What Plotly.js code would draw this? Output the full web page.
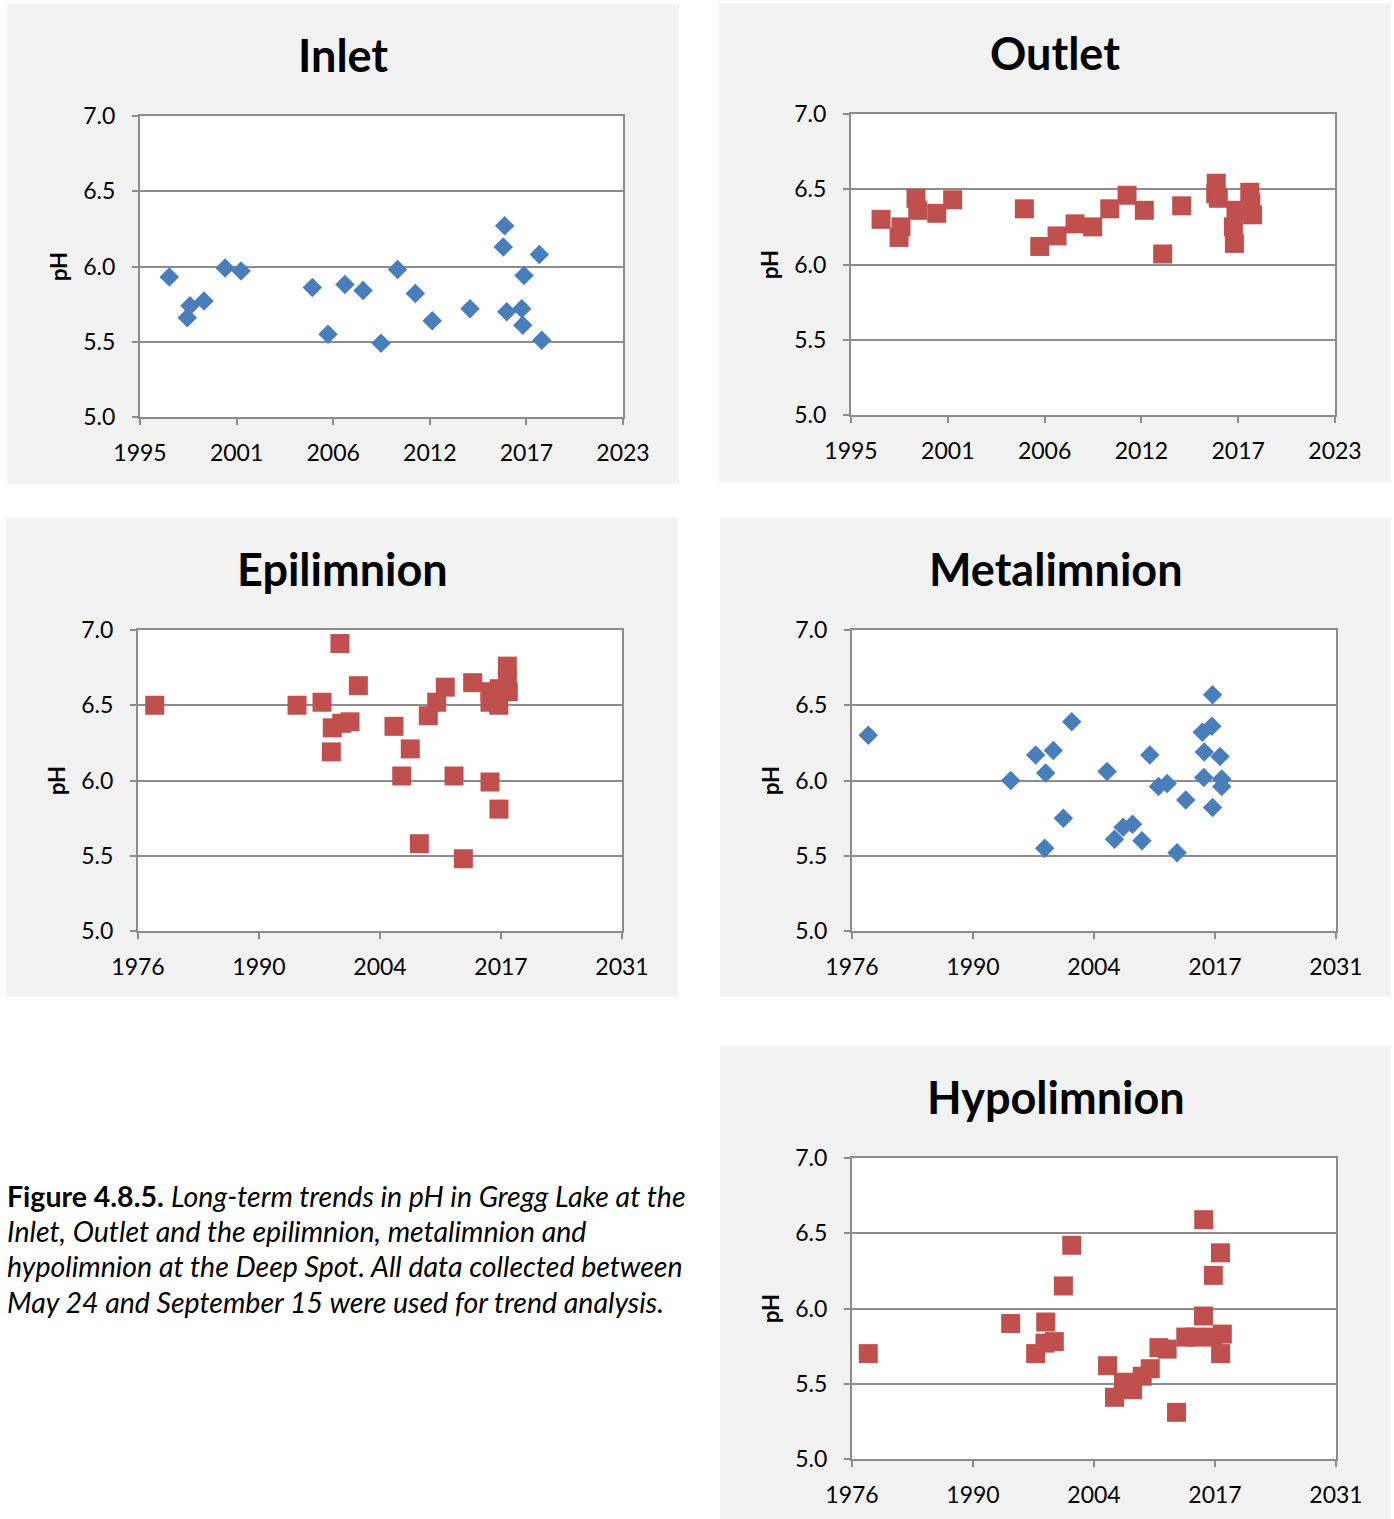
<!DOCTYPE html>
<html><head><meta charset="utf-8">
<script src="https://cdn.plot.ly/plotly-3.0.1.min.js"></script>
<style>html,body{margin:0;padding:0;background:#fff}</style>
</head><body><div id="chart" style="width:1394px;height:1519px"></div>
<script>
// ---- data (decimal years, pH) ----
const inletYear = [1996.70, 1997.90, 1997.74, 1998.71, 1999.93, 2000.86, 2004.99, 2005.90, 2006.88, 2007.93, 2008.97, 2009.93, 2010.96, 2011.94, 2014.13, 2016.14, 2016.06, 2016.26, 2017.13, 2017.19, 2017.26, 2018.15, 2018.29];
const inletPH   = [5.93, 5.74, 5.66, 5.77, 5.99, 5.97, 5.86, 5.55, 5.88, 5.84, 5.49, 5.98, 5.82, 5.64, 5.72, 6.27, 6.13, 5.70, 5.72, 5.61, 5.94, 6.08, 5.51];

const outletYear = [1996.74, 1997.89, 1997.78, 1998.76, 1998.86, 1999.96, 2000.88, 2005.03, 2005.92, 2006.92, 2007.96, 2008.98, 2009.97, 2010.97, 2011.97, 2013.03, 2014.13, 2016.13, 2016.10, 2016.25, 2017.27, 2017.12, 2017.18, 2018.07, 2018.13, 2018.23];
const outletPH   = [6.30, 6.25, 6.18, 6.44, 6.36, 6.34, 6.43, 6.37, 6.12, 6.19, 6.27, 6.25, 6.37, 6.46, 6.36, 6.07, 6.39, 6.54, 6.47, 6.44, 6.36, 6.25, 6.14, 6.48, 6.41, 6.33];

const epiYear = [1977.90, 1994.07, 1996.91, 1998.95, 2001.04, 1998.08, 1999.15, 2000.09, 1997.97, 2005.09, 2006.94, 2005.97, 2007.97, 2008.99, 2009.94, 2010.92, 2011.91, 2012.97, 2014.03, 2016.00, 2017.02, 2016.00, 2016.00, 2017.06, 2017.00, 2017.97, 2017.97, 2018.08];
const epiPH   = [6.50, 6.50, 6.52, 6.91, 6.63, 6.35, 6.38, 6.39, 6.19, 6.36, 6.21, 6.03, 5.58, 6.43, 6.52, 6.62, 6.03, 5.48, 6.65, 5.99, 5.81, 6.59, 6.52, 6.61, 6.50, 6.76, 6.67, 6.59];

const metaYear = [1977.85, 1994.03, 1996.87, 1998.88, 1998.01, 2000.97, 2000.02, 1997.90, 2004.99, 2009.84, 2010.83, 2011.81, 2013.93, 2016.97, 2016.89, 2015.81, 2016.03, 2017.82, 2015.97, 2018.02, 2018.02, 2016.97, 2006.81, 2007.88, 2005.83, 2008.95, 2012.93];
const metaPH   = [6.30, 6.00, 6.17, 6.20, 6.05, 6.39, 5.75, 5.55, 6.06, 6.17, 5.96, 5.98, 5.87, 6.57, 6.36, 6.32, 6.19, 6.16, 6.02, 6.01, 5.96, 5.82, 5.69, 5.71, 5.61, 5.60, 5.52];

const hypoYear = [1977.85, 1994.03, 1998.01, 1996.87, 1997.93, 1998.99, 2000.02, 2000.97, 2005.04, 2005.83, 2006.85, 2007.88, 2008.98, 2009.89, 2010.88, 2011.81, 2012.88, 2013.93, 2014.95, 2015.97, 2015.94, 2017.00, 2017.87, 2017.06, 2018.08, 2017.89];
const hypoPH   = [5.70, 5.90, 5.91, 5.70, 5.77, 5.78, 6.15, 6.42, 5.62, 5.41, 5.51, 5.46, 5.55, 5.60, 5.74, 5.73, 5.31, 5.81, 5.81, 6.59, 5.95, 5.81, 6.37, 6.22, 5.83, 5.70];

const shortTickVals  = [1995, 2000.6, 2006.2, 2011.8, 2017.4, 2023];
const shortTickText  = ['1995', '2001', '2006', '2012', '2017', '2023'];
const longTickVals   = [1976, 1989.75, 2003.5, 2017.25, 2031];
const longTickText   = ['1976', '1990', '2004', '2017', '2031'];

const panelTitles = ['Inlet', 'Outlet', 'Epilimnion', 'Metalimnion', 'Hypolimnion'];
const captionLines = [
  '<b>Figure 4.8.5.</b> <i>Long-term trends in pH in Gregg Lake at the</i>',
  '<i>Inlet, Outlet and the epilimnion, metalimnion and</i>',
  '<i>hypolimnion at the Deep Spot. All data collected between</i>',
  '<i>May 24 and September 15 were used for trend analysis.</i>'
];

// ---- layout geometry ----
const W = 1394, H = 1519;
const FONT = 'Lato, "Open Sans", sans-serif';
const BLUE = '#4a7ebb', RED = '#c0504d', GRID = '#8c8c8c';

const panels = [
  {bg:[7,4,679,484],    plot:[140,116,623,417],  title:[343,55],   x:inletYear,  y:inletPH,  sym:'diamond', color:BLUE, tv:shortTickVals, tt:shortTickText, range:[1995,2023]},
  {bg:[719,3,1391,482], plot:[851,114,1335,415], title:[1055,53],  x:outletYear, y:outletPH, sym:'square',  color:RED,  tv:shortTickVals, tt:shortTickText, range:[1995,2023]},
  {bg:[6,518,678,997],  plot:[138,630,622,931],  title:[342,569],  x:epiYear,    y:epiPH,    sym:'square',  color:RED,  tv:longTickVals,  tt:longTickText,  range:[1976,2031]},
  {bg:[720,518,1391,997], plot:[852,630,1336,931], title:[1056,569], x:metaYear, y:metaPH,   sym:'diamond', color:BLUE, tv:longTickVals,  tt:longTickText,  range:[1976,2031]},
  {bg:[720,1046,1391,1519], plot:[852,1158,1336,1459], title:[1056,1097], x:hypoYear, y:hypoPH, sym:'square', color:RED, tv:longTickVals, tt:longTickText, range:[1976,2031]}
];

const traces = [];
const layout = {
  width: W, height: H,
  margin: {l:0, r:0, t:0, b:0},
  paper_bgcolor: '#ffffff',
  plot_bgcolor: 'rgba(0,0,0,0)',
  showlegend: false,
  font: {family: FONT, color: '#000'},
  shapes: [], annotations: []
};

panels.forEach((p, i) => {
  const n = i + 1;
  const xa = n === 1 ? 'xaxis' : 'xaxis' + n;
  const ya = n === 1 ? 'yaxis' : 'yaxis' + n;
  const xr = n === 1 ? 'x' : 'x' + n;
  const yr = n === 1 ? 'y' : 'y' + n;
  traces.push({
    type: 'scatter', mode: 'markers', x: p.x, y: p.y, xaxis: xr, yaxis: yr,
    marker: {symbol: p.sym, color: p.color, size: p.sym === 'diamond' ? 15 : 19, line: {width: 0}},
    hoverinfo: 'x+y'
  });
  const [px0, py0, px1, py1] = p.plot;
  layout[xa] = {
    domain: [px0 / W, px1 / W], anchor: yr, range: p.range,
    tickmode: 'array', tickvals: p.tv, ticktext: p.tt,
    showgrid: false, zeroline: false, showline: true, mirror: true,
    linecolor: GRID, linewidth: 2, ticks: 'outside', ticklen: 6, tickwidth: 2, tickcolor: GRID,
    tickfont: {family: FONT, size: 23, color: '#000'}, ticklabelstandoff: 8, fixedrange: true
  };
  layout[ya] = {
    domain: [1 - py1 / H, 1 - py0 / H], anchor: xr, range: [5, 7],
    tickmode: 'linear', tick0: 5, dtick: 0.5, tickformat: '.1f',
    showgrid: true, gridcolor: GRID, gridwidth: 2, zeroline: false, showline: true, mirror: true,
    linecolor: GRID, linewidth: 2, ticks: 'outside', ticklen: 6, tickwidth: 2, tickcolor: GRID,
    tickfont: {family: FONT, size: 23, color: '#000'}, ticklabelstandoff: 12, fixedrange: true,
    title: {text: '<b>pH</b>', font: {family: FONT, size: 22, color: '#000'}, standoff: 10}
  };
  const [bx0, by0, bx1, by1] = p.bg;
  layout.shapes.push({type:'rect', xref:'paper', yref:'paper', layer:'below',
    x0: bx0 / W, x1: bx1 / W, y0: 1 - by1 / H, y1: 1 - by0 / H, fillcolor:'#f2f2f2', line:{width:0}});
  layout.shapes.push({type:'rect', xref:'paper', yref:'paper', layer:'below',
    x0: px0 / W, x1: px1 / W, y0: 1 - py1 / H, y1: 1 - py0 / H, fillcolor:'#ffffff', line:{width:0}});
  layout.annotations.push({xref:'paper', yref:'paper', x: p.title[0] / W, y: 1 - p.title[1] / H,
    xanchor:'center', yanchor:'middle', showarrow:false, text:'<b>' + panelTitles[i] + '</b>',
    font:{family: FONT, size: 45, color:'#000'}});
});

const captionY = [1196, 1231, 1266, 1302];
captionLines.forEach((t, i) => {
  layout.annotations.push({xref:'paper', yref:'paper', x: 5 / W, y: 1 - captionY[i] / H,
    xanchor:'left', yanchor:'middle', showarrow:false, text: t, align:'left',
    font:{family: FONT, size: 28.5, color:'#000'}});
});

Plotly.newPlot('chart', traces, layout, {displayModeBar: false, staticPlot: true});
</script>
</body></html>
